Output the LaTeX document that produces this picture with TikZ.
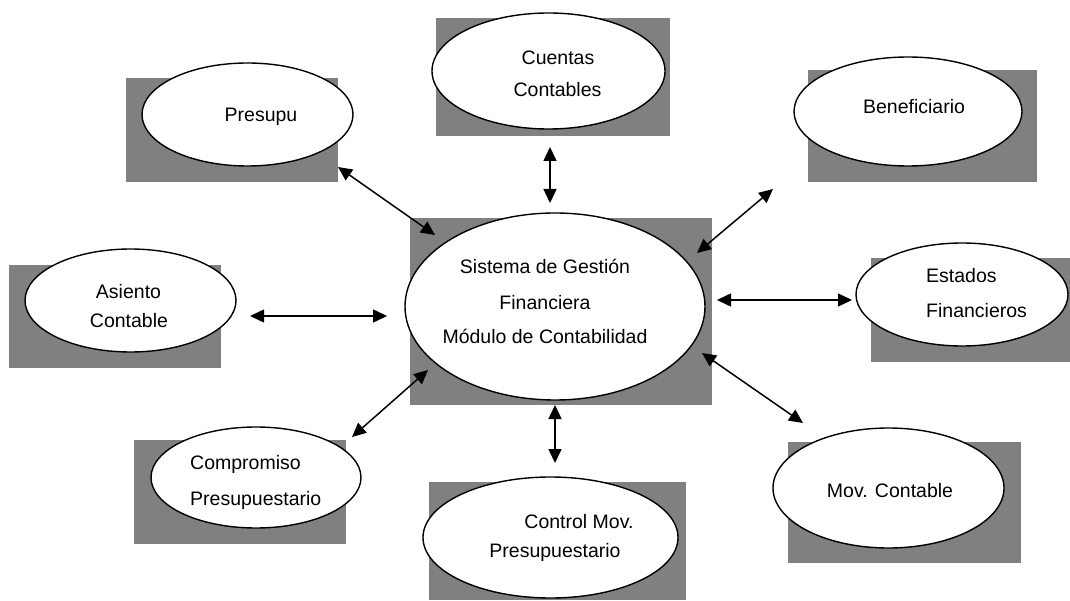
\documentclass[tikz,border=0pt]{standalone}
\usepackage{fontspec}
\setmainfont{Liberation Sans}
\usetikzlibrary{shapes.geometric,arrows.meta}
\begin{document}
\begin{tikzpicture}[x=1pt,y=-1pt,
  panel/.style={fill=black!50},
  bubble/.style={ellipse,draw=black,line width=1.4pt,fill=white,inner sep=0pt},
  txt/.style={inner sep=0pt,font=\fontsize{19.5}{22}\selectfont},
  link/.style={line width=1.5pt,{Triangle[length=14pt,width=13pt]}-{Triangle[length=14pt,width=13pt]}}]
\useasboundingbox (0,0) rectangle (1070,601);

% grey panels behind the bubbles
\fill[panel] (410,218) rectangle (712,405);
\fill[panel] (126,78) rectangle (338,182);
\fill[panel] (436,18) rectangle (670,136);
\fill[panel] (808,70) rectangle (1037,182);
\fill[panel] (9,265) rectangle (221,368);
\fill[panel] (871,258) rectangle (1070,362);
\fill[panel] (134,440) rectangle (346,544);
\fill[panel] (429,482) rectangle (686,600);
\fill[panel] (788,442) rectangle (1021,563);

% bubbles
\node[bubble,minimum width=300pt,minimum height=187pt] (sgf) at (555,306.5) {};
\node[bubble,minimum width=211pt,minimum height=103pt] (pre) at (247.5,114.5) {};
\node[bubble,minimum width=233pt,minimum height=116pt] (cue) at (548.5,71) {};
\node[bubble,minimum width=228pt,minimum height=109pt] (ben) at (908,111.5) {};
\node[bubble,minimum width=211pt,minimum height=103pt] (asi) at (130.5,300.5) {};
\node[bubble,minimum width=212pt,minimum height=103pt] (est) at (962,294.5) {};
\node[bubble,minimum width=210pt,minimum height=101pt] (com) at (256,477.5) {};
\node[bubble,minimum width=255pt,minimum height=121pt] (con) at (550.5,537.5) {};
\node[bubble,minimum width=231pt,minimum height=120pt] (mov) at (888.5,488) {};

% labels
\node[txt,anchor=base] (sgf1) at (545,274) {Sistema de Gestión};
\node[txt,anchor=base] (sgf2) at (545,310) {Financiera};
\node[txt,anchor=base] (sgf3) at (545,343) {Módulo de Contabilidad};
\node[txt,anchor=base] (pre1) at (261,122) {Presupu};
\node[txt,anchor=base] (cue1) at (558,65) {Cuentas};
\node[txt,anchor=base] (cue2) at (557.5,97) {Contables};
\node[txt,anchor=base] (ben1) at (914,114) {Beneficiario};
\node[txt,anchor=base] (asi1) at (128.5,299) {Asiento};
\node[txt,anchor=base] (asi2) at (129,327) {Contable};
\node[txt,anchor=base west] (est1) at (926,283) {Estados};
\node[txt,anchor=base west] (est2) at (926,318) {Financieros};
\node[txt,anchor=base west] (com1) at (190,469) {Compromiso};
\node[txt,anchor=base west] (com2) at (190,505) {Presupuestario};
\node[txt,anchor=base] (con1) at (579,528) {Control Mov.};
\node[txt,anchor=base] (con2) at (555,557) {Presupuestario};
\node[txt,anchor=base] (mov1) at (890,497) {Mov. Contable};

% free ends of the connectors
\coordinate (preA) at (338,167);  \coordinate (preB) at (435,235);
\coordinate (cueA) at (550,147);  \coordinate (cueB) at (550,203);
\coordinate (benA) at (773,189);  \coordinate (benB) at (697,253);
\coordinate (asiA) at (250,316);  \coordinate (asiB) at (387,316);
\coordinate (estA) at (852,300);  \coordinate (estB) at (717,300);
\coordinate (comA) at (352,437);  \coordinate (comB) at (428,370);
\coordinate (conA) at (555,463);  \coordinate (conB) at (555,405);
\coordinate (movA) at (803,423);  \coordinate (movB) at (702,353);

% connectors
\draw[link] (preA) -- (preB);
\draw[link] (cueA) -- (cueB);
\draw[link] (benA) -- (benB);
\draw[link] (asiA) -- (asiB);
\draw[link] (estA) -- (estB);
\draw[link] (comA) -- (comB);
\draw[link] (conA) -- (conB);
\draw[link] (movA) -- (movB);
\end{tikzpicture}
\end{document}
